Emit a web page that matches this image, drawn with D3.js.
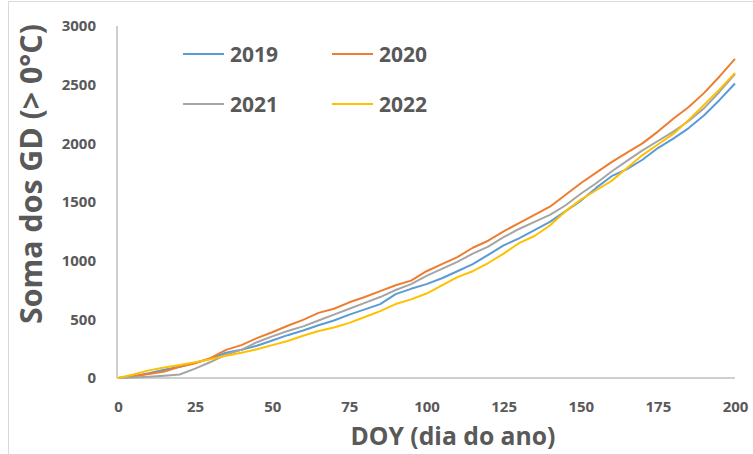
<!DOCTYPE html>
<html><head><meta charset="utf-8">
<script src="https://cdn.jsdelivr.net/npm/d3@7"></script>
<style>body{margin:0;background:#fff}svg{display:block}</style>
</head><body>
<script>
const doy = d3.range(0, 201, 5);
const s2019 = [0,15,40,70,95,130,165,215,240,275,320,365,405,450,490,540,585,630,715,760,800,850,910,970,1050,1130,1190,1260,1330,1420,1510,1620,1720,1780,1860,1960,2040,2130,2240,2370,2510];
const s2020 = [0,15,35,55,95,125,170,240,280,340,390,445,495,555,590,645,690,740,790,830,910,970,1030,1110,1170,1250,1320,1390,1460,1560,1660,1750,1840,1920,2000,2100,2210,2310,2430,2570,2720];
const s2021 = [0,5,10,20,30,80,136,200,240,305,355,400,440,490,540,590,640,690,750,800,870,930,990,1060,1120,1200,1270,1330,1390,1470,1570,1660,1760,1850,1940,2020,2100,2190,2300,2440,2590];
const s2022 = [0,30,65,90,110,135,160,190,215,245,280,315,360,400,430,470,520,570,630,670,720,790,860,910,980,1060,1150,1210,1300,1420,1520,1600,1680,1790,1900,1990,2080,2200,2330,2460,2600];
const seriesNames = ["2019","2020","2021","2022"];
const colors = ["#5B9BD5","#ED7D31","#A5A5A5","#FFC000"];
const xTicks = [0,25,50,75,100,125,150,175,200];
const yTicks = [0,500,1000,1500,2000,2500,3000];

const W=753,H=454;
const svg=d3.select("body").append("svg").attr("width",W).attr("height",H);
svg.append("rect").attr("x",8.5).attr("y",1.5).attr("width",770).attr("height",470).attr("fill","#fff").attr("stroke","#d9d9d9");

const x=d3.scaleLinear().domain([0,200]).range([118,735]);
const y=d3.scaleLinear().domain([0,3000]).range([378,26]);
const font="'Open Sans', sans-serif";
const tc="#595959";

const gx=svg.append("g").attr("transform","translate(0,378)")
  .call(d3.axisBottom(x).tickValues(xTicks).tickSize(0).tickPadding(23).tickFormat(d3.format("d")));
gx.select(".domain").attr("stroke","#bfbfbf").attr("stroke-width",1.5).attr("d","M117,0H735");
gx.selectAll("text").attr("fill",tc).attr("font-family",font).attr("font-size",15).attr("font-weight","bold");

const gy=svg.append("g").attr("transform","translate(117,0)")
  .call(d3.axisLeft(y).tickValues(yTicks).tickSize(0).tickPadding(21).tickFormat(d3.format("d")));
gy.select(".domain").attr("stroke","#bfbfbf").attr("stroke-width",1.5).attr("d","M0,26V378");
gy.selectAll("text").attr("fill",tc).attr("font-family",font).attr("font-size",15).attr("font-weight","bold");

const all=[s2019,s2020,s2021,s2022];
const line=d3.line().x((d,i)=>x(doy[i])).y(d=>y(d));
all.forEach((s,k)=>{
  svg.append("path").datum(s).attr("d",line).attr("fill","none")
    .attr("stroke",colors[k]).attr("stroke-width",2).attr("stroke-linejoin","round");
});

// legend
const legPos=[[183,54],[332,54],[183,104],[332,104]];
seriesNames.forEach((n,k)=>{
  const [lx,ly]=legPos[k];
  svg.append("line").attr("x1",lx).attr("x2",lx+41).attr("y1",ly).attr("y2",ly)
    .attr("stroke",colors[k]).attr("stroke-width",2);
  svg.append("text").attr("x",lx+47).attr("y",ly+7.5).text(n)
    .attr("fill",tc).attr("font-family",font).attr("font-size",21).attr("font-weight","bold");
});

function fit(t,target){
  const w=t.node().getComputedTextLength();
  const fs=+t.attr("font-size");
  t.attr("font-size",fs*target/w);
}
const xt=svg.append("text").attr("x",453).attr("y",445).attr("text-anchor","middle")
  .text("DOY (dia do ano)").attr("fill",tc).attr("font-family",font).attr("font-size",21).attr("font-weight","bold");
fit(xt,205);
const yt=svg.append("text").attr("transform","translate(42,174) rotate(-90)").attr("text-anchor","middle")
  .text("Soma dos GD (> 0°C)").attr("fill",tc).attr("font-family",font).attr("font-size",21).attr("font-weight","bold");
fit(yt,300);
</script>
</body></html>
